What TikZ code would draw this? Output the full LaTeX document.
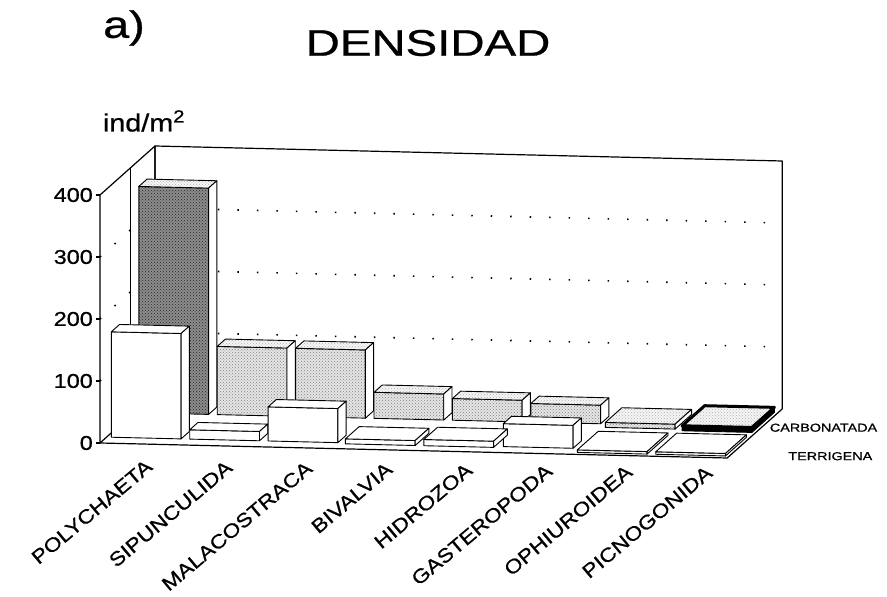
\documentclass[tikz,border=0pt]{standalone}
\usepackage{fontspec}
\setmainfont{Liberation Sans}[BoldFont=Liberation Sans, BoldFeatures={FakeBold=0.7}]
\usepackage{graphicx}
\usetikzlibrary{patterns}

% horizontally stretched text, as in the scanned chart
\newcommand{\wide}[2][1.17]{\scalebox{#1}[1]{#2}}

% one 3D bar: category, depth from, depth to, value, front / top / side styles
\newcommand{\cubo}[7]{%
  \pgfmathsetmacro{\barL}{#1+0.06}%
  \pgfmathsetmacro{\barR}{#1+0.95}%
  \draw[#5] (\barL,0,#2) -- (\barR,0,#2) -- (\barR,#4,#2) -- (\barL,#4,#2) -- cycle;
  \draw[#6] (\barL,#4,#2) -- (\barR,#4,#2) -- (\barR,#4,#3) -- (\barL,#4,#3) -- cycle;
  \draw[#7] (\barR,0,#2) -- (\barR,0,#3) -- (\barR,#4,#3) -- (\barR,#4,#2) -- cycle;
}

\tikzset{
  wall/.style={line width=1.2pt, line join=round},
  gridline/.style={line width=1.6pt, dash pattern=on 1.5pt off 18pt},
  barbox/.style={line width=0.9pt, line join=round},
  terr/.style={barbox, fill=white},
  carb/.style={barbox, preaction={fill=black!10}, pattern=crosshatch dots, pattern color=black!50},
  carbtop/.style={barbox, preaction={fill=black!4}, pattern=crosshatch dots, pattern color=black!30},
  carbdark/.style={barbox, preaction={fill=black!45}, pattern=crosshatch dots, pattern color=black!85},
  carbblack/.style={barbox, fill=black},
  carbframe/.style={carbtop, line width=3pt},
  lbl/.style={inner sep=0pt, font=\fontsize{20}{22}\selectfont\bfseries},
  catlbl/.style={inner sep=0pt, font=\fontsize{19.5}{22}\selectfont\bfseries, anchor=east, rotate=40},
  leg/.style={inner sep=0pt, font=\fontsize{11.5}{12}\selectfont\bfseries, anchor=west},
}

\begin{document}
\begin{tikzpicture}[x=1pt, y=1pt]
\useasboundingbox (0,0) rectangle (887,597);

% Headings
\node[inner sep=0pt, font=\fontsize{38}{40}\selectfont\bfseries] (panel) at (124,569) {\wide[1.23]{a)}};
\node[inner sep=0pt, font=\fontsize{37}{40}\selectfont\bfseries] (title) at (428,554) {\wide[1.28]{DENSIDAD}};
\node[inner sep=0pt, font=\fontsize{25}{27}\selectfont\bfseries] (unit) at (144,476) {\wide[1.15]{ind/m\textsuperscript{2}}};

\begin{scope}[shift={(100pt,154pt)}, x={(78.4pt,-1.875pt)}, y={(0pt,0.62pt)}, z={(55pt,49pt)}]

% Walls and floor
\draw[wall] (0,0,0) -- (0,400,0) -- (0,400,1) -- (0,0,1) -- cycle;
\draw[wall] (0,0,1) -- (0,400,1) -- (8,400,1) -- (8,0,1);
\draw[wall] (0,0,0) -- (8,0,0) -- (8,0,1);
\draw[wall] (0,0,0.55) -- (0,400,0.55);

% Grid lines
\foreach \v in {100,200,300} {
    \draw[gridline] (0,\v,0) -- (0,\v,1) -- (8,\v,1);
}

% Value axis
\foreach \v in {0,100,...,400} {
    \draw[wall] (0,\v,0) -- ++(-4pt,0pt);
    \node[lbl, anchor=east, xshift=-7pt] (yl-\v) at (0,\v,0) {\wide{\v}};
}

% CARBONATADA (back row)
\cubo{0}{0.62}{0.77}{365}{carbdark}{carbtop}{terr}
\foreach \i/\v in {1/110, 2/110, 3/42, 4/35, 5/30} {
    \cubo{\i}{0.62}{0.77}{\v}{carb}{carbtop}{terr}
}
\cubo{6}{0.55}{0.85}{8}{carb}{carbtop}{terr}
\cubo{7}{0.52}{0.93}{8}{carbblack}{carbframe}{carbblack}

% TERRIGENA (front row)
\foreach \i/\v in {0/170, 1/15, 2/55, 5/37} {
    \cubo{\i}{0.12}{0.27}{\v}{terr}{terr}{terr}
}
\foreach \i/\v in {3/8, 4/10} {
    \cubo{\i}{0.1}{0.35}{\v}{terr}{terr}{terr}
}
\foreach \i in {6,7} {
    \cubo{\i}{0.04}{0.42}{4}{terr}{terr}{terr}
}

% Row legend
\node[leg, xshift=4pt, yshift=-4pt] (leg-c) at (8,0,0.7) {\wide[1.25]{CARBONATADA}};
\node[leg, xshift=50pt, yshift=-8pt] (leg-t) at (8,0,0.2) {\wide[1.25]{TERRIGENA}};

\end{scope}

% Category labels
\foreach \i/\taxon in {0/POLYCHAETA, 1/SIPUNCULIDA, 2/MALACOSTRACA, 3/BIVALVIA,
                       4/HIDROZOA, 5/GASTEROPODA, 6/OPHIUROIDEA, 7/PICNOGONIDA} {
    \node[catlbl] (cat-\i) at (149.4+80*\i, 133.5-0.9*\i) {\wide{\taxon}};
}
\end{tikzpicture}
\end{document}
